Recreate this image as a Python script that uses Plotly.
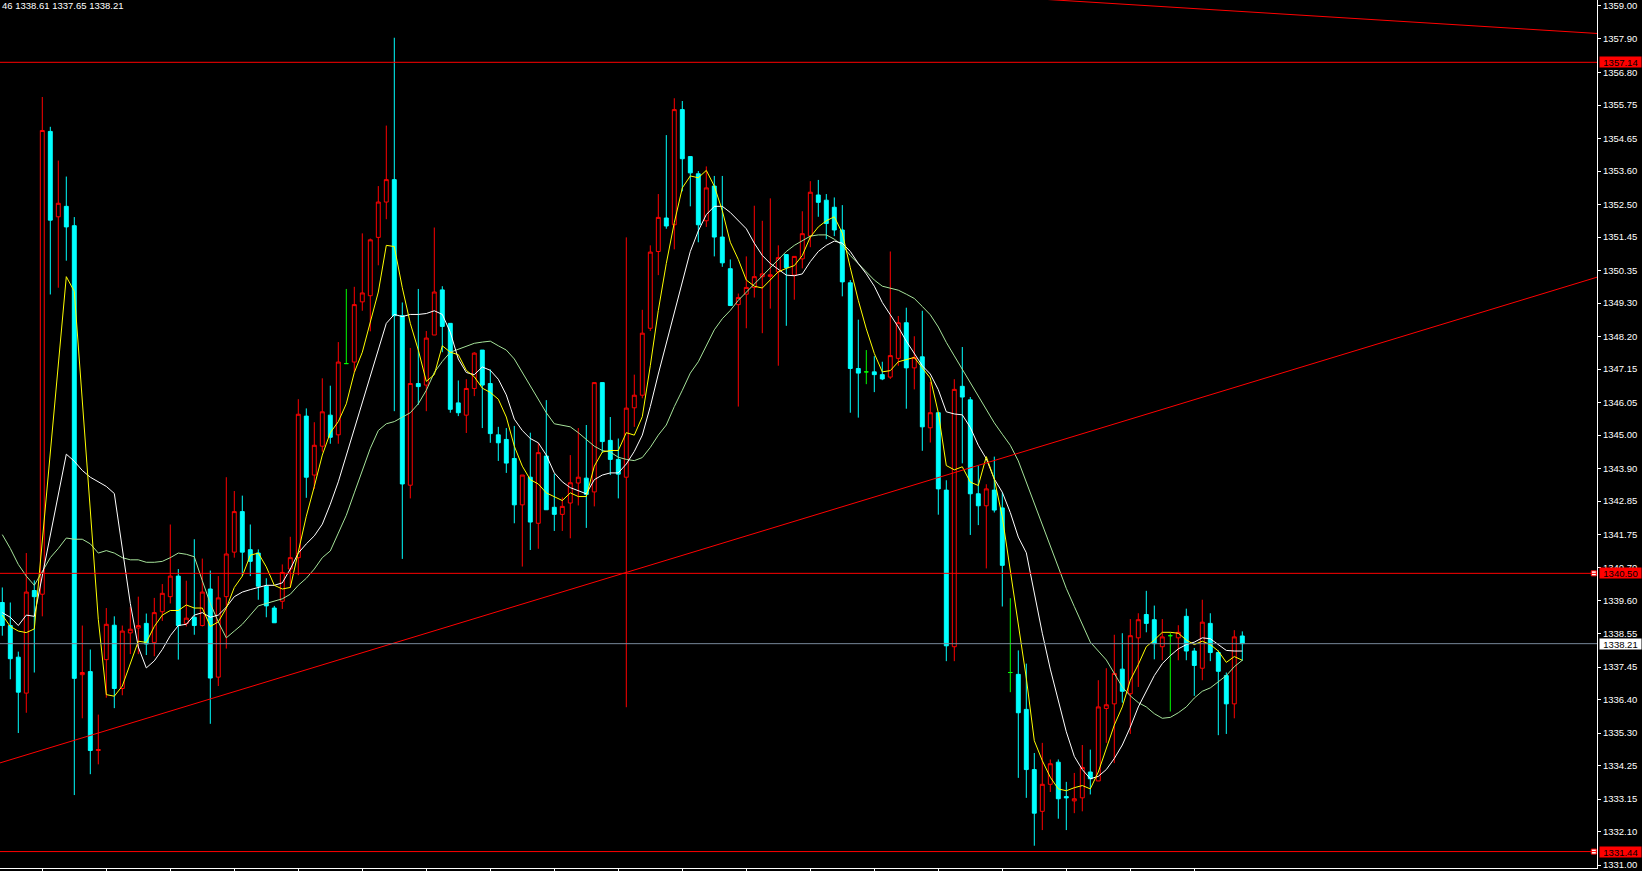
import numpy as np
import plotly.graph_objects as go

# ---------------- data ----------------
opens = [1339.55,1338.80,1337.77,1336.60,1339.94,1339.82,1354.89,1352.11,1352.45,1351.82,
         1337.20,1337.30,1334.73,1337.69,1338.81,1336.75,1338.56,1338.72,1338.87,1338.25,
         1339.25,1339.74,1340.41,1338.87,1339.07,1338.80,1339.99,1337.12,1339.74,1341.19,
         1342.51,1341.27,1341.16,1340.08,1339.37,1339.59,1340.64,1341.01,1345.62,1343.70,
         1344.64,1345.65,1345.01,1347.33,1347.38,1349.34,1349.54,1351.44,1352.59,1353.32,
         1348.89,1343.37,1346.68,1346.63,1348.26,1349.73,1348.64,1346.05,1345.65,1346.52,
         1347.77,1346.68,1345.01,1344.86,1344.24,1342.73,1343.63,1342.13,1344.32,1342.65,
         1342.42,1342.79,1343.44,1343.60,1343.15,1346.71,1344.83,1344.21,1343.63,1345.89,
         1346.30,1348.48,1350.98,1352.07,1351.85,1355.60,1354.07,1353.51,1351.98,1353.11,
         1351.45,1350.42,1349.25,1349.59,1349.81,1350.16,1350.17,1350.32,1350.88,1350.21,
         1350.74,1351.49,1352.82,1352.65,1352.42,1351.68,1349.96,1347.17,1347.06,1347.06,
         1346.97,1346.89,1347.50,1348.66,1347.19,1347.55,1345.24,1345.73,1343.21,1338.11,
         1346.59,1346.15,1343.09,1342.70,1343.21,1342.63,1337.27,1337.21,1336.07,1334.11,
         1332.75,1333.63,1334.35,1333.23,1333.09,1333.19,1334.03,1333.74,1336.10,1336.25,
         1337.38,1336.58,1338.40,1339.16,1338.99,1338.11,1338.47,1338.40,1339.10,1337.97,
         1337.41,1338.87,1337.92,1337.17,1336.25,1338.46]
highs = [1340.04,1339.55,1337.95,1341.16,1340.27,1356.01,1355.04,1353.94,1353.42,1352.10,
         1338.80,1338.02,1335.90,1339.37,1339.10,1338.80,1339.40,1339.74,1339.19,1339.70,
         1340.15,1342.09,1340.64,1340.26,1341.61,1340.98,1340.59,1340.41,1343.63,1343.18,
         1343.03,1342.09,1341.28,1340.34,1339.44,1340.79,1341.69,1346.17,1345.87,1345.42,
         1346.85,1346.61,1348.03,1349.76,1349.83,1351.57,1351.40,1353.11,1355.08,1357.94,
         1349.32,1347.84,1349.76,1348.39,1351.76,1349.85,1348.64,1346.78,1346.82,1347.70,
         1347.77,1347.14,1345.27,1345.23,1345.30,1343.70,1345.08,1344.75,1346.14,1343.74,
         1342.97,1344.35,1345.23,1345.33,1346.71,1346.71,1345.59,1344.89,1351.44,1346.97,
         1349.08,1351.18,1352.85,1354.77,1355.97,1355.88,1354.07,1353.60,1353.75,1353.44,
         1353.44,1350.72,1349.61,1350.82,1352.47,1351.98,1352.71,1351.18,1350.88,1350.82,
         1352.29,1353.27,1353.31,1352.85,1352.74,1352.49,1350.05,1348.76,1347.77,1347.57,
         1347.39,1350.98,1348.88,1349.15,1348.22,1349.05,1346.73,1345.73,1343.53,1346.82,
         1347.87,1346.24,1344.01,1343.40,1344.30,1343.14,1339.69,1337.99,1337.56,1334.65,
         1334.98,1334.44,1334.44,1333.71,1334.00,1334.91,1334.76,1337.02,1337.41,1338.50,
         1338.55,1339.01,1339.20,1339.93,1339.45,1339.01,1338.55,1338.81,1339.35,1338.07,
         1339.64,1339.20,1337.99,1337.27,1338.65,1338.61]
lows = [1338.47,1337.05,1335.30,1335.96,1337.27,1339.10,1349.58,1349.80,1350.68,1333.28,
        1335.78,1333.96,1334.28,1336.45,1336.11,1336.53,1337.87,1337.87,1337.84,1337.80,
        1338.95,1339.52,1337.69,1338.77,1338.50,1338.77,1335.60,1336.83,1338.05,1341.01,
        1340.41,1340.41,1339.64,1339.07,1338.89,1339.34,1340.04,1340.44,1342.96,1343.25,
        1344.46,1344.72,1344.72,1347.33,1347.04,1349.05,1348.38,1350.53,1352.03,1345.78,
        1340.97,1342.94,1345.99,1345.78,1348.26,1347.70,1345.73,1345.62,1345.07,1346.27,
        1345.23,1344.75,1344.16,1343.77,1342.13,1340.72,1341.26,1341.30,1342.57,1341.88,
        1341.88,1341.64,1342.71,1341.98,1342.68,1344.43,1343.70,1342.94,1336.14,1345.27,
        1346.20,1348.39,1350.21,1351.72,1351.05,1352.94,1352.45,1351.28,1351.78,1350.82,
        1350.48,1349.22,1345.93,1348.48,1349.48,1348.32,1349.12,1347.26,1348.56,1349.41,
        1350.43,1351.12,1352.11,1351.38,1351.48,1349.52,1345.73,1345.57,1346.66,1346.40,
        1346.79,1346.83,1347.26,1345.86,1346.49,1344.49,1344.76,1342.41,1337.64,1337.64,
        1344.08,1341.75,1342.07,1340.66,1342.48,1339.42,1336.63,1333.84,1333.19,1331.63,
        1332.14,1333.38,1332.51,1332.14,1332.69,1332.75,1333.30,1333.74,1334.98,1334.32,
        1336.29,1335.27,1336.80,1338.58,1337.70,1337.67,1336.00,1337.67,1337.67,1336.51,
        1337.02,1337.64,1335.23,1335.27,1335.78,1337.65]
closes = [1338.80,1337.72,1336.63,1339.89,1339.74,1354.92,1352.00,1352.55,1351.78,1337.08,
          1337.27,1334.73,1334.76,1338.84,1336.75,1338.62,1338.68,1338.80,1338.20,1339.22,
          1339.85,1340.41,1338.80,1339.04,1338.80,1339.89,1337.09,1339.70,1341.13,1342.51,
          1341.19,1340.89,1340.08,1339.44,1338.89,1340.53,1341.01,1345.68,1343.63,1344.67,
          1345.76,1344.93,1347.38,1347.33,1349.25,1349.63,1351.36,1352.59,1353.32,1348.89,
          1343.41,1346.68,1346.58,1348.16,1349.66,1348.54,1345.84,1345.73,1346.52,1347.67,
          1346.63,1345.05,1344.75,1344.09,1342.73,1343.70,1342.17,1344.43,1342.57,1342.42,
          1342.68,1343.45,1343.63,1343.07,1346.71,1344.79,1344.21,1343.73,1345.88,1346.30,
          1348.32,1350.96,1352.09,1351.81,1355.60,1354.00,1353.54,1351.85,1353.05,1351.45,
          1350.61,1349.22,1349.48,1349.81,1350.16,1350.25,1350.22,1350.78,1350.45,1350.82,
          1351.56,1352.91,1352.58,1351.89,1351.68,1349.99,1347.17,1347.02,1347.06,1346.97,
          1346.83,1347.59,1348.66,1347.19,1347.53,1345.27,1345.73,1343.25,1338.14,1346.49,
          1346.24,1343.09,1342.70,1343.25,1342.56,1340.76,1337.27,1335.96,1334.11,1332.69,
          1333.63,1334.30,1333.16,1333.19,1333.16,1334.18,1333.81,1336.15,1336.22,1337.24,
          1336.66,1338.47,1338.99,1338.87,1338.21,1338.43,1338.47,1338.58,1337.97,1337.50,
          1338.91,1337.92,1337.31,1336.25,1338.43,1338.21]
doji_bars = [43, 108, 126, 146]

ma_fast = [1339.14,1338.77,1338.62,1338.57,1338.69,1341.60,1344.50,1347.50,1350.16,1349.68,
           1346.10,1342.50,1339.00,1336.55,1336.50,1336.83,1337.57,1338.29,1338.25,1338.77,
           1339.14,1339.29,1339.29,1339.47,1339.37,1339.37,1338.77,1338.92,1339.37,1340.04,
           1340.41,1341.09,1341.16,1340.71,1340.11,1339.99,1340.04,1341.16,1342.36,1343.33,
           1344.35,1345.08,1345.44,1346.02,1347.04,1347.70,1348.64,1349.66,1351.18,1351.14,
           1349.80,1348.64,1347.77,1346.75,1346.97,1347.91,1347.70,1347.62,1347.11,1346.90,
           1346.53,1346.39,1346.17,1345.59,1344.64,1343.99,1343.55,1343.41,1343.12,1343.00,
           1342.87,1343.12,1343.00,1343.00,1343.99,1344.45,1344.50,1344.50,1345.08,1345.00,
           1345.60,1347.26,1349.06,1350.59,1351.92,1353.05,1353.44,1353.38,1353.62,1353.11,
           1352.31,1351.28,1350.72,1350.05,1349.85,1349.79,1350.05,1350.32,1350.43,1350.52,
           1350.85,1351.45,1351.78,1351.98,1352.11,1351.58,1350.45,1349.39,1348.46,1347.66,
           1347.06,1347.10,1347.39,1347.46,1347.53,1347.19,1346.86,1345.73,1344.01,1343.87,
           1343.97,1343.47,1343.36,1344.30,1343.57,1342.34,1340.59,1338.84,1337.09,1335.05,
           1334.40,1333.86,1333.48,1333.42,1333.52,1333.59,1333.48,1334.03,1334.76,1335.56,
           1336.15,1337.02,1337.53,1338.11,1338.33,1338.58,1338.58,1338.55,1338.33,1338.18,
           1338.29,1338.18,1337.97,1337.60,1337.79,1337.67]
ma_mid = [1339.22,1339.07,1338.80,1339.14,1339.10,1340.41,1341.76,1343.10,1344.38,1344.15,
          1343.85,1343.63,1343.48,1343.33,1343.10,1341.31,1339.52,1338.10,1337.42,1337.65,
          1338.02,1338.47,1338.80,1338.84,1339.14,1339.22,1339.07,1339.14,1339.40,1339.74,
          1339.89,1339.97,1340.04,1340.11,1340.11,1340.19,1340.64,1341.16,1341.46,1341.72,
          1342.10,1342.75,1343.48,1344.35,1345.15,1346.02,1346.97,1347.77,1348.64,1348.93,
          1348.86,1348.93,1348.93,1348.96,1349.05,1348.93,1348.35,1347.48,1347.04,1346.97,
          1347.22,1347.11,1346.82,1346.31,1345.52,1345.15,1344.89,1344.75,1344.35,1343.77,
          1343.48,1343.29,1343.19,1343.09,1343.55,1343.70,1343.77,1343.77,1344.06,1344.47,
          1345.00,1345.93,1346.99,1347.99,1348.99,1350.05,1350.98,1351.65,1352.18,1352.45,
          1352.45,1352.25,1351.98,1351.72,1351.25,1350.85,1350.59,1350.39,1350.21,1350.19,
          1350.25,1350.65,1350.98,1351.18,1351.32,1351.25,1350.98,1350.59,1350.25,1349.85,
          1349.32,1348.92,1348.52,1348.06,1347.66,1347.26,1346.99,1346.48,1345.76,1345.69,
          1345.66,1345.25,1344.67,1344.23,1343.57,1343.14,1342.48,1341.68,1341.17,1339.86,
          1338.55,1337.38,1336.36,1335.34,1334.54,1334.11,1333.81,1333.89,1334.11,1334.47,
          1334.91,1335.49,1336.15,1336.66,1337.17,1337.56,1337.82,1338.04,1338.18,1338.26,
          1338.40,1338.37,1338.18,1337.99,1337.97,1337.97]
ma_slow = [1341.76,1341.31,1340.79,1340.41,1340.11,1340.56,1341.01,1341.31,1341.65,1341.61,
           1341.61,1341.46,1341.16,1341.24,1341.16,1341.01,1340.94,1340.94,1340.86,1340.86,
           1340.89,1341.01,1341.16,1341.12,1341.04,1340.26,1339.52,1338.92,1338.40,1338.62,
           1338.84,1339.14,1339.44,1339.52,1339.59,1339.67,1339.82,1340.11,1340.34,1340.64,
           1341.01,1341.23,1341.81,1342.39,1343.12,1343.84,1344.57,1345.15,1345.37,1345.44,
           1345.59,1345.73,1346.02,1346.46,1347.04,1347.40,1347.70,1347.80,1347.91,1347.99,
           1348.03,1348.06,1347.91,1347.77,1347.48,1347.04,1346.61,1346.17,1345.73,1345.37,
           1345.33,1345.27,1345.08,1344.86,1344.64,1344.50,1344.45,1344.28,1344.21,1344.17,
           1344.27,1344.60,1345.00,1345.33,1345.93,1346.46,1347.02,1347.39,1347.93,1348.43,
           1348.79,1349.06,1349.39,1349.65,1349.92,1350.19,1350.45,1350.72,1350.98,1351.18,
           1351.32,1351.48,1351.52,1351.52,1351.38,1351.18,1350.85,1350.59,1350.32,1350.05,
           1349.85,1349.79,1349.72,1349.59,1349.45,1349.19,1348.92,1348.52,1348.02,1347.58,
           1347.14,1346.71,1346.27,1345.83,1345.40,1345.03,1344.67,1344.16,1343.46,1342.76,
           1342.06,1341.35,1340.65,1340.01,1339.42,1338.84,1338.26,1337.97,1337.68,1337.24,
           1336.80,1336.51,1336.29,1336.15,1335.93,1335.78,1335.81,1335.96,1336.15,1336.44,
           1336.66,1336.77,1336.98,1337.17,1337.46,1337.67]

price_ticks = [1359.00, 1357.90, 1356.80, 1355.75, 1354.65, 1353.60, 1352.50, 1351.45,
               1350.35, 1349.30, 1348.20, 1347.15, 1346.05, 1345.00, 1343.90, 1342.85,
               1341.75, 1340.70, 1339.60, 1338.55, 1337.45, 1336.40, 1335.30, 1334.25,
               1333.15, 1332.10, 1331.00]
red_levels = [1357.14, 1340.50, 1331.44]
bid_level = 1338.21
trend_up_x = [0, 155]
trend_up_y = [1334.35, 1346.63]
trend_dn_x = [131.6, 199.3]
trend_dn_y = [1359.17, 1358.08]
header_text = "46 1338.61 1337.65 1338.21"
time_ticks = list(range(5, 156, 8))

# ---------------- figure ----------------
n = len(opens)
idx = list(range(n))
X0, X1 = -0.2875, 199.3375
Y0, Y1 = 1330.905, 1359.169
FONT = "Liberation Sans"

normal = [i for i in idx if i not in doji_bars]
fig = go.Figure()
fig.add_trace(go.Candlestick(
    x=normal, open=[opens[i] for i in normal], high=[highs[i] for i in normal],
    low=[lows[i] for i in normal], close=[closes[i] for i in normal],
    increasing=dict(line=dict(color="#FF0000", width=1), fillcolor="#000000"),
    decreasing=dict(line=dict(color="#00FFFF", width=1), fillcolor="#00FFFF"),
    whiskerwidth=0, hoverinfo="skip", showlegend=False))
fig.add_trace(go.Candlestick(
    x=doji_bars, open=[opens[i] for i in doji_bars], high=[highs[i] for i in doji_bars],
    low=[lows[i] for i in doji_bars], close=[closes[i] for i in doji_bars],
    increasing=dict(line=dict(color="#00FF00", width=1), fillcolor="#00FF00"),
    decreasing=dict(line=dict(color="#00FF00", width=1), fillcolor="#00FF00"),
    whiskerwidth=0, hoverinfo="skip", showlegend=False))

for series, col in [(ma_slow, "#A6E39A"), (ma_mid, "#FFFFFF"), (ma_fast, "#FFFF00")]:
    fig.add_trace(go.Scatter(x=idx, y=series, mode="lines",
                             line=dict(color=col, width=1), hoverinfo="skip", showlegend=False))

def extend(xs, ys):
    slope = (ys[1] - ys[0]) / (xs[1] - xs[0])
    return [X0, X1], [ys[0] + slope * (X0 - xs[0]), ys[0] + slope * (X1 - xs[0])]

for xs, ys in [(trend_up_x, trend_up_y), (trend_dn_x, trend_dn_y)]:
    ex, ey = extend(xs, ys)
    fig.add_trace(go.Scatter(x=ex, y=ey, mode="lines", line=dict(color="#FF0000", width=1),
                             hoverinfo="skip", showlegend=False))

shapes = []
for lv in red_levels:
    shapes.append(dict(type="line", xref="paper", x0=0, x1=1, yref="y", y0=lv, y1=lv,
                       line=dict(color="#FF0000", width=1)))
shapes.append(dict(type="line", xref="paper", x0=0, x1=1, yref="y", y0=bid_level, y1=bid_level,
                   line=dict(color="#778899", width=1)))

annotations = []
for lv in red_levels:
    annotations.append(dict(xref="paper", x=1, xanchor="left", xshift=2, yref="y", y=lv,
                            text=f"{lv:.2f}", showarrow=False, bgcolor="#FF0000",
                            font=dict(family=FONT, size=9.5, color="#000000"),
                            width=41, height=10, borderpad=0))
annotations.append(dict(xref="paper", x=1, xanchor="left", xshift=2, yref="y", y=bid_level,
                        text=f"{bid_level:.2f}", showarrow=False, bgcolor="#FFFFFF",
                        font=dict(family=FONT, size=9.5, color="#000000"),
                        width=41, height=10, borderpad=0))
annotations.append(dict(xref="paper", x=0, xanchor="left", yref="paper", y=1, yanchor="top",
                        yshift=2, text=header_text, showarrow=False,
                        font=dict(family=FONT, size=9.5, color="#FFFFFF")))

# selected-line markers near the price scale
fig.add_trace(go.Scatter(x=[X1 - 0.4, X1 - 0.4], y=[red_levels[1], red_levels[2]], mode="markers",
                         marker=dict(symbol="square", size=5, color="#FFFFFF",
                                     line=dict(color="#FF0000", width=1)),
                         cliponaxis=False, hoverinfo="skip", showlegend=False))

fig.update_layout(
    width=1642, height=871, margin=dict(l=0, r=45, t=0, b=3),
    paper_bgcolor="#000000", plot_bgcolor="#000000", showlegend=False,
    hovermode=False, shapes=shapes, annotations=annotations,
    xaxis=dict(range=[X0, X1], rangeslider=dict(visible=False), showgrid=False,
               zeroline=False, showline=True, linecolor="#FFFFFF", linewidth=1,
               ticks="outside", ticklen=3, tickcolor="#FFFFFF", tickvals=time_ticks,
               showticklabels=False, fixedrange=True),
    yaxis=dict(range=[Y0, Y1], side="right", showgrid=False, zeroline=False,
               showline=True, linecolor="#FFFFFF", linewidth=1, ticks="outside",
               ticklen=3, tickcolor="#FFFFFF", tickvals=price_ticks,
               ticktext=[f"{v:.2f}" for v in price_ticks], ticklabeloverflow="allow",
               tickfont=dict(family=FONT, size=9.5, color="#FFFFFF"), fixedrange=True),
)

fig.write_html("out.html", config={"displayModeBar": False},
               post_script="document.body.style.margin='0px';"
                           "document.body.style.background='#000';"
                           "document.body.style.overflow='hidden';")
